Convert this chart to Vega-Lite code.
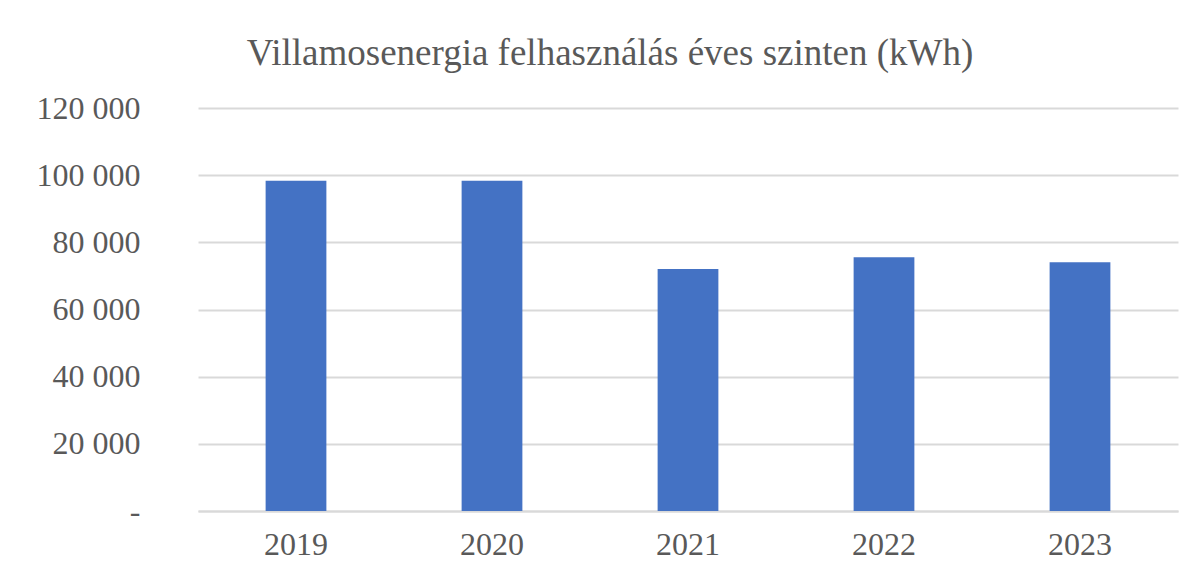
{
  "$schema": "https://vega.github.io/schema/vega-lite/v6.json",
  "autosize": "none",
  "width": 980,
  "height": 403,
  "padding": {"left": 198, "top": 108, "right": 26, "bottom": 64},
  "background": "white",
  "title": {
    "text": "Villamosenergia felhasználás éves szinten (kWh)",
    "font": "Liberation Serif",
    "fontSize": 37,
    "fontWeight": "normal",
    "color": "#595959",
    "anchor": "middle",
    "dx": -78,
    "offset": 19
  },
  "data": {
    "values": [
      {"year": "2019", "kwh": 98350},
      {"year": "2020", "kwh": 98350},
      {"year": "2021", "kwh": 72060},
      {"year": "2022", "kwh": 75540},
      {"year": "2023", "kwh": 74060}
    ]
  },
  "mark": {"type": "bar", "color": "#4472C4"},
  "encoding": {
    "x": {
      "field": "year",
      "type": "ordinal",
      "scale": {"paddingInner": 0.69, "paddingOuter": 0.345},
      "axis": {
        "title": null,
        "labelAngle": 0,
        "labelFont": "Liberation Serif",
        "labelFontSize": 32,
        "labelColor": "#595959",
        "labelPadding": 18,
        "ticks": false,
        "domainColor": "#d9d9d9",
        "domainWidth": 2
      }
    },
    "y": {
      "field": "kwh",
      "type": "quantitative",
      "scale": {"domain": [0, 120000]},
      "axis": {
        "title": null,
        "values": [0, 20000, 40000, 60000, 80000, 100000, 120000],
        "labelExpr": "datum.value == 0 ? '-\u00a0\u00a0\u00a0\u00a0' : replace(format(datum.value, ','), ',', ' ')",
        "labelFont": "Liberation Serif",
        "labelFontSize": 32,
        "labelColor": "#595959",
        "labelPadding": 58,
        "ticks": false,
        "domain": false,
        "gridColor": "#d9d9d9",
        "gridWidth": 2
      }
    }
  },
  "config": {
    "view": {"stroke": null}
  }
}
